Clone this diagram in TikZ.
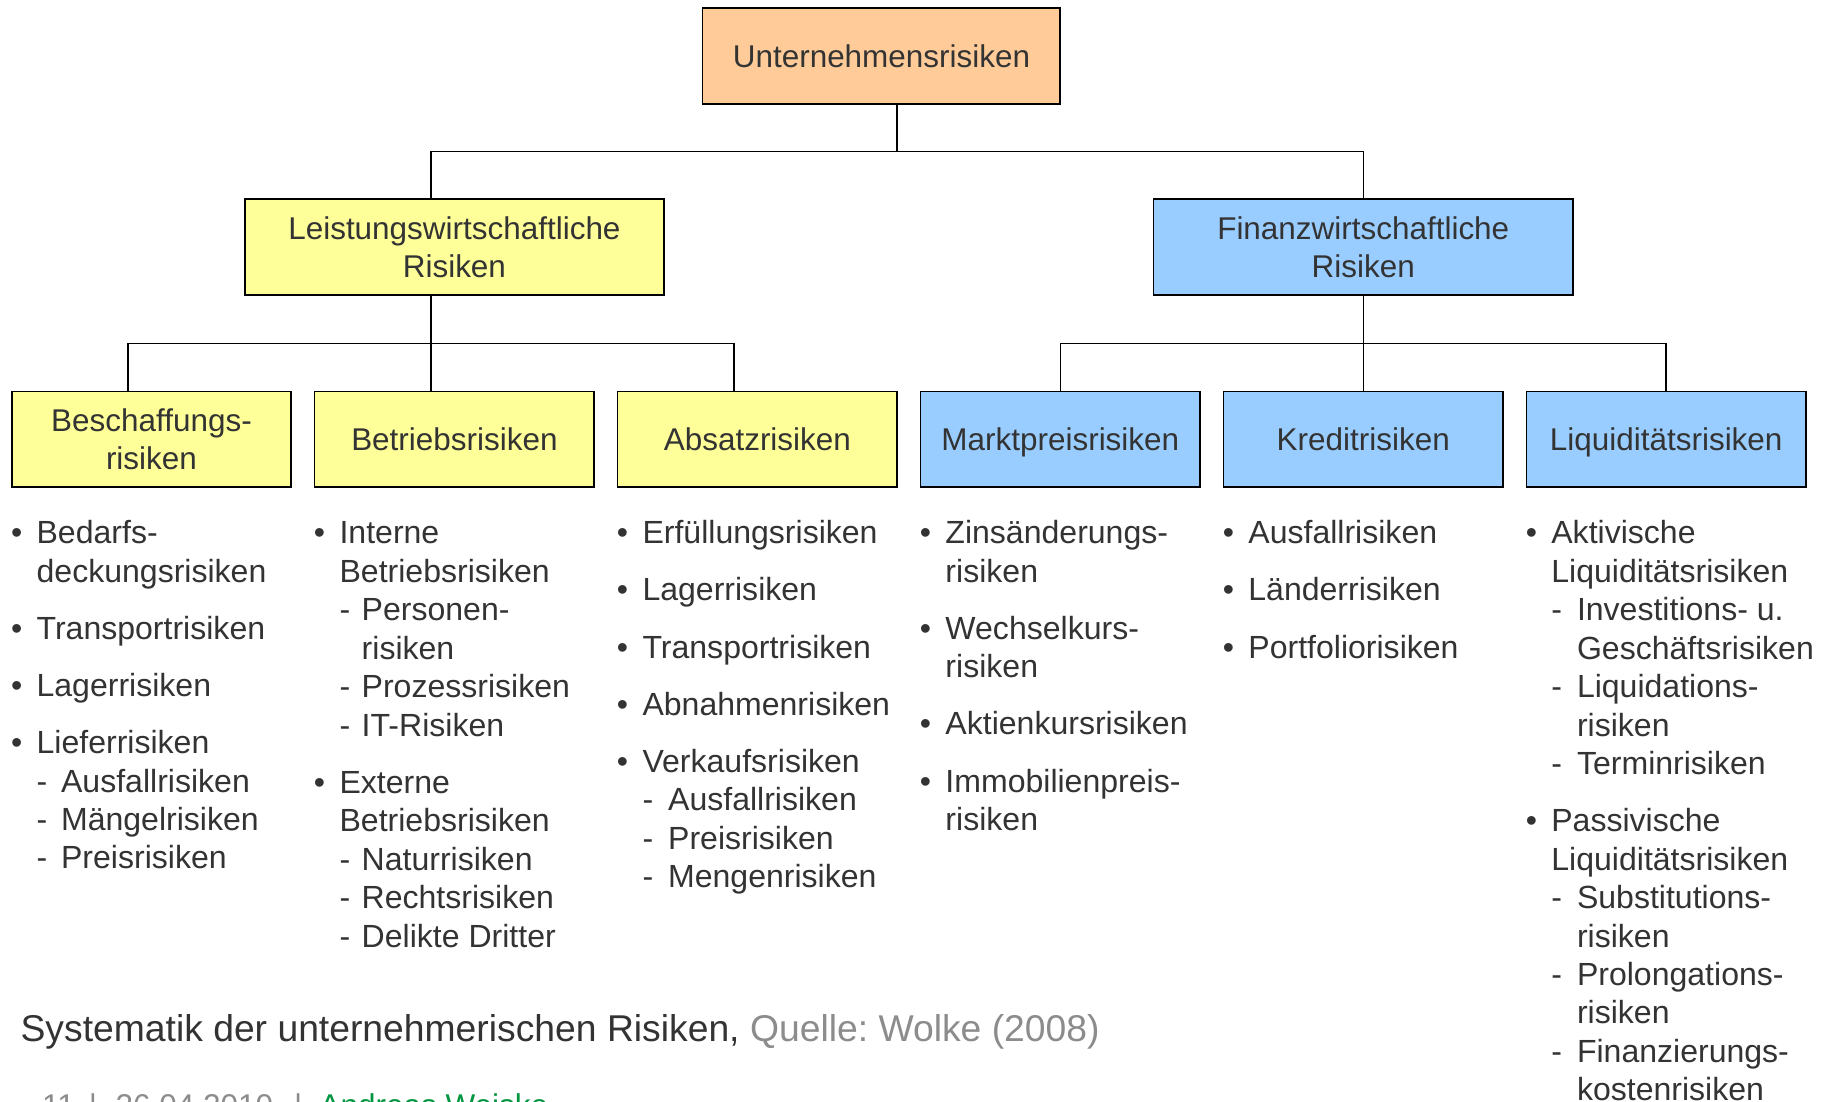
\documentclass[tikz,border=0pt]{standalone}
\usepackage{fontspec}
\setmainfont{Liberation Sans}
\frenchspacing
\definecolor{txt}{HTML}{333333}
\definecolor{boxor}{HTML}{FFCC99}
\definecolor{boxye}{HTML}{FFFF99}
\definecolor{boxbl}{HTML}{99CCFF}
\definecolor{srcgray}{HTML}{8C8C8C}
\definecolor{authgreen}{HTML}{00963F}
\newlength\dashw
\setlength\dashw{22pt}
\newcommand\bitem[1]{\makebox[22pt][l]{\textbullet}#1}
\newcommand\bcont[1]{\hspace*{22pt}#1}
\newcommand\ditem[1]{\hspace*{22pt}\makebox[\dashw][l]{-}#1}
\newcommand\dcont[1]{\hspace*{22pt}\hspace*{\dashw}#1}
\newcommand\nodepth[1]{\raisebox{0pt}[\height][0pt]{#1}}
\tikzset{
  riskbox/.style={draw=black, line width=1.5pt, minimum height=82pt, inner sep=0pt,
    align=center, text=txt, font=\fontsize{27}{33}\selectfont},
  leafbox/.style={riskbox, minimum width=240pt},
  conn/.style={draw=black, line width=1.3pt},
  risklist/.style={anchor=base west, inner sep=0pt, text=txt, font=\fontsize{27.5}{33}\selectfont},
}
\begin{document}
\begin{tikzpicture}[x=1pt,y=-1pt]
\useasboundingbox (0,0) rectangle (1568,945);
\fill[white] (0,0) rectangle (1568,945);

% boxes
\node[riskbox, fill=boxor, minimum width=307pt] (top) at (756.5,48) {Unternehmensrisiken};
\node[riskbox, fill=boxye, minimum width=360pt] (lw) at (390,212) {Leistungswirtschaftliche\\Risiken};
\node[riskbox, fill=boxbl, minimum width=360pt] (fw) at (1170,212) {Finanzwirtschaftliche\\Risiken};
\node[leafbox, fill=boxye] (b1) at (130,377) {Beschaffungs-\\risiken};
\node[leafbox, fill=boxye] (b2) at (390,377) {Betriebsrisiken};
\node[leafbox, fill=boxye] (b3) at (650,377) {Absatzrisiken};
\node[leafbox, fill=boxbl] (b4) at (910,377) {\nodepth{Marktpreisrisiken}};
\node[leafbox, fill=boxbl] (b5) at (1170,377) {Kreditrisiken};
\node[leafbox, fill=boxbl] (b6) at (1430,377) {\nodepth{Liquiditätsrisiken}};

% connectors
\coordinate (tb) at (770,130);
\coordinate (lb) at (370,295);
\coordinate (rb) at (1170,295);
\draw[conn] (top.south -| tb) -- (tb);
\draw[conn] ([xshift=-20pt]lw.north) |- (tb) -| (fw.north);
\draw[conn] ([xshift=-20pt]lw.south) -- ([xshift=-20pt]b2.north);
\draw[conn] ([xshift=-20pt]b1.north) |- (lb) -| ([xshift=-20pt]b3.north);
\draw[conn] (fw.south) -- (b5.north);
\draw[conn] (b4.north) |- (rb) -| (b6.north);

% lists
\node[risklist] (l1) at ([yshift=-48pt]b1.south west) {\setlength\dashw{21pt}%
\begin{tabular}[t]{@{}l@{}}
\bitem{Bedarfs-}\\
\bcont{deckungsrisiken}\\[16pt]
\bitem{Transportrisiken}\\[16pt]
\bitem{Lagerrisiken}\\[16pt]
\bitem{Lieferrisiken}\\
\ditem{Ausfallrisiken}\\
\ditem{Mängelrisiken}\\
\ditem{Preisrisiken}
\end{tabular}};

\node[risklist] (l2) at ([yshift=-48pt]b2.south west) {\setlength\dashw{19pt}%
\begin{tabular}[t]{@{}l@{}}
\bitem{Interne}\\
\bcont{Betriebsrisiken}\\
\ditem{Personen-}\\
\dcont{risiken}\\
\ditem{Prozessrisiken}\\
\ditem{IT-Risiken}\\[16pt]
\bitem{Externe}\\
\bcont{Betriebsrisiken}\\
\ditem{Naturrisiken}\\
\ditem{Rechtsrisiken}\\
\ditem{Delikte Dritter}
\end{tabular}};

\node[risklist] (l3) at ([yshift=-48pt]b3.south west) {\setlength\dashw{22pt}%
\begin{tabular}[t]{@{}l@{}}
\bitem{Erfüllungsrisiken}\\[16pt]
\bitem{Lagerrisiken}\\[16pt]
\bitem{Transportrisiken}\\[16pt]
\bitem{Abnahmenrisiken}\\[16pt]
\bitem{Verkaufsrisiken}\\
\ditem{Ausfallrisiken}\\
\ditem{Preisrisiken}\\
\ditem{Mengenrisiken}
\end{tabular}};

\node[risklist] (l4) at ([yshift=-48pt]b4.south west) {%
\begin{tabular}[t]{@{}l@{}}
\bitem{Zinsänderungs-}\\
\bcont{risiken}\\[16pt]
\bitem{Wechselkurs-}\\
\bcont{risiken}\\[16pt]
\bitem{Aktienkursrisiken}\\[16pt]
\bitem{Immobilienpreis-}\\
\bcont{risiken}
\end{tabular}};

\node[risklist] (l5) at ([yshift=-48pt]b5.south west) {%
\begin{tabular}[t]{@{}l@{}}
\bitem{Ausfallrisiken}\\[16pt]
\bitem{Länderrisiken}\\[16pt]
\bitem{Portfoliorisiken}
\end{tabular}};

\node[risklist] (l6) at ([yshift=-48pt]b6.south west) {\setlength\dashw{22pt}%
\begin{tabular}[t]{@{}l@{}}
\bitem{Aktivische}\\
\bcont{Liquiditätsrisiken}\\
\ditem{Investitions- u.}\\
\dcont{Geschäftsrisiken}\\
\ditem{Liquidations-}\\
\dcont{risiken}\\
\ditem{Terminrisiken}\\[16pt]
\bitem{Passivische}\\
\bcont{Liquiditätsrisiken}\\
\ditem{Substitutions-}\\
\dcont{risiken}\\
\ditem{Prolongations-}\\
\dcont{risiken}\\
\ditem{Finanzierungs-}\\
\dcont{\nodepth{kostenrisiken}}
\end{tabular}};

% caption
\node[anchor=base west, inner sep=0pt, font=\fontsize{32}{38}\selectfont] (cap) at (17.5,894)
  {\textcolor{txt}{Systematik der unternehmerischen Risiken,} \textcolor{srcgray}{Quelle: Wolke (2008)}};

% footer (cut off by the page edge, as in the reference)
\begin{scope}
\clip (0,0) rectangle (1568,945);
\node[anchor=base west, inner sep=0pt, font=\fontsize{27}{31}\selectfont, text=srcgray] (foot) at (36,958)
  {11\hspace{12pt}|\hspace{16pt}26.04.2010\hspace{18pt}|\hspace{15pt}\textcolor{authgreen}{Andreas Weiske}};
\end{scope}
\end{tikzpicture}
\end{document}
